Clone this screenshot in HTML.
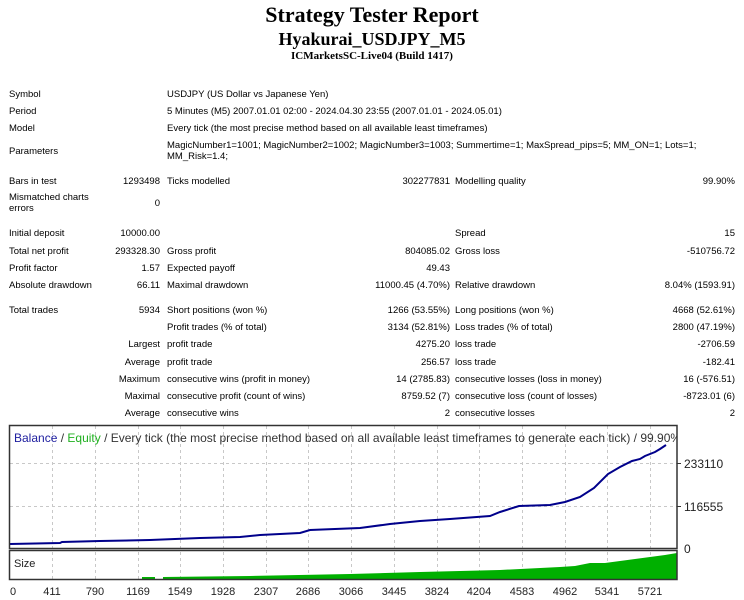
<!DOCTYPE html>
<html><head><meta charset="utf-8"><style>
body{margin:0;width:744px;height:600px;background:#fff;position:relative;overflow:hidden;font-family:"Liberation Sans",sans-serif;color:#000}
.t{position:absolute;font-size:9.5px;white-space:nowrap;line-height:11px}
.r{text-align:right}
.h{position:absolute;left:0;width:744px;text-align:center;font-family:"Liberation Serif",serif;font-weight:bold}
</style></head><body>
<div class="h" style="top:2px;font-size:22px">Strategy Tester Report</div>
<div class="h" style="top:29px;font-size:18px">Hyakurai_USDJPY_M5</div>
<div class="h" style="top:50px;font-size:11px">ICMarketsSC-Live04 (Build 1417)</div>

<div class="t" style="left:9px;top:89px">Symbol</div><div class="t" style="left:167px;top:89px">USDJPY (US Dollar vs Japanese Yen)</div>
<div class="t" style="left:9px;top:106px">Period</div><div class="t" style="left:167px;top:106px">5 Minutes (M5) 2007.01.01 02:00 - 2024.04.30 23:55 (2007.01.01 - 2024.05.01)</div>
<div class="t" style="left:9px;top:123px">Model</div><div class="t" style="left:167px;top:123px">Every tick (the most precise method based on all available least timeframes)</div>
<div class="t" style="left:9px;top:146px">Parameters</div><div class="t" style="left:167px;top:140px">MagicNumber1=1001; MagicNumber2=1002; MagicNumber3=1003; Summertime=1; MaxSpread_pips=5; MM_ON=1; Lots=1;<br>MM_Risk=1.4;</div>
<div class="t" style="left:9px;top:176px">Bars in test</div><div class="t r" style="right:584px;top:176px">1293498</div><div class="t" style="left:167px;top:176px">Ticks modelled</div><div class="t r" style="right:294px;top:176px">302277831</div><div class="t" style="left:455px;top:176px">Modelling quality</div><div class="t r" style="right:9px;top:176px">99.90%</div>
<div class="t" style="left:9px;top:192px">Mismatched charts<br>errors</div><div class="t r" style="right:584px;top:198px">0</div>
<div class="t" style="left:9px;top:228px">Initial deposit</div><div class="t r" style="right:584px;top:228px">10000.00</div><div class="t" style="left:455px;top:228px">Spread</div><div class="t r" style="right:9px;top:228px">15</div>
<div class="t" style="left:9px;top:246px">Total net profit</div><div class="t r" style="right:584px;top:246px">293328.30</div><div class="t" style="left:167px;top:246px">Gross profit</div><div class="t r" style="right:294px;top:246px">804085.02</div><div class="t" style="left:455px;top:246px">Gross loss</div><div class="t r" style="right:9px;top:246px">-510756.72</div>
<div class="t" style="left:9px;top:263px">Profit factor</div><div class="t r" style="right:584px;top:263px">1.57</div><div class="t" style="left:167px;top:263px">Expected payoff</div><div class="t r" style="right:294px;top:263px">49.43</div>
<div class="t" style="left:9px;top:280px">Absolute drawdown</div><div class="t r" style="right:584px;top:280px">66.11</div><div class="t" style="left:167px;top:280px">Maximal drawdown</div><div class="t r" style="right:294px;top:280px">11000.45 (4.70%)</div><div class="t" style="left:455px;top:280px">Relative drawdown</div><div class="t r" style="right:9px;top:280px">8.04% (1593.91)</div>
<div class="t" style="left:9px;top:305px">Total trades</div><div class="t r" style="right:584px;top:305px">5934</div><div class="t" style="left:167px;top:305px">Short positions (won %)</div><div class="t r" style="right:294px;top:305px">1266 (53.55%)</div><div class="t" style="left:455px;top:305px">Long positions (won %)</div><div class="t r" style="right:9px;top:305px">4668 (52.61%)</div>
<div class="t" style="left:167px;top:322px">Profit trades (% of total)</div><div class="t r" style="right:294px;top:322px">3134 (52.81%)</div><div class="t" style="left:455px;top:322px">Loss trades (% of total)</div><div class="t r" style="right:9px;top:322px">2800 (47.19%)</div>
<div class="t r" style="right:584px;top:339px">Largest</div><div class="t" style="left:167px;top:339px">profit trade</div><div class="t r" style="right:294px;top:339px">4275.20</div><div class="t" style="left:455px;top:339px">loss trade</div><div class="t r" style="right:9px;top:339px">-2706.59</div>
<div class="t r" style="right:584px;top:357px">Average</div><div class="t" style="left:167px;top:357px">profit trade</div><div class="t r" style="right:294px;top:357px">256.57</div><div class="t" style="left:455px;top:357px">loss trade</div><div class="t r" style="right:9px;top:357px">-182.41</div>
<div class="t r" style="right:584px;top:374px">Maximum</div><div class="t" style="left:167px;top:374px">consecutive wins (profit in money)</div><div class="t r" style="right:294px;top:374px">14 (2785.83)</div><div class="t" style="left:455px;top:374px">consecutive losses (loss in money)</div><div class="t r" style="right:9px;top:374px">16 (-576.51)</div>
<div class="t r" style="right:584px;top:391px">Maximal</div><div class="t" style="left:167px;top:391px">consecutive profit (count of wins)</div><div class="t r" style="right:294px;top:391px">8759.52 (7)</div><div class="t" style="left:455px;top:391px">consecutive loss (count of losses)</div><div class="t r" style="right:9px;top:391px">-8723.01 (6)</div>
<div class="t r" style="right:584px;top:408px">Average</div><div class="t" style="left:167px;top:408px">consecutive wins</div><div class="t r" style="right:294px;top:408px">2</div><div class="t" style="left:455px;top:408px">consecutive losses</div><div class="t r" style="right:9px;top:408px">2</div>

<svg style="position:absolute;left:0;top:0" width="744" height="600" viewBox="0 0 744 600" font-family="Liberation Sans, sans-serif">
<defs><clipPath id="c"><rect x="10" y="427" width="667" height="121"/></clipPath></defs>
<g stroke="#c8c8c8" stroke-dasharray="3,3" stroke-width="1">
<line x1="10" y1="463.5" x2="677" y2="463.5"/><line x1="10" y1="506.5" x2="677" y2="506.5"/>
<line x1="52.5" y1="426" x2="52.5" y2="579"/><line x1="95.5" y1="426" x2="95.5" y2="579"/><line x1="138.5" y1="426" x2="138.5" y2="579"/><line x1="180.5" y1="426" x2="180.5" y2="579"/><line x1="223.5" y1="426" x2="223.5" y2="579"/><line x1="266.5" y1="426" x2="266.5" y2="579"/><line x1="308.5" y1="426" x2="308.5" y2="579"/><line x1="351.5" y1="426" x2="351.5" y2="579"/><line x1="394.5" y1="426" x2="394.5" y2="579"/><line x1="437.5" y1="426" x2="437.5" y2="579"/><line x1="479.5" y1="426" x2="479.5" y2="579"/><line x1="522.5" y1="426" x2="522.5" y2="579"/><line x1="565.5" y1="426" x2="565.5" y2="579"/><line x1="607.5" y1="426" x2="607.5" y2="579"/><line x1="650.5" y1="426" x2="650.5" y2="579"/>
</g>
<polygon fill="#00b000" points="142,579 142,577 155,577 155,579 163,579 163,577 250,576 350,574 420,572 500,570 560,567 575,566 590,563 605,563 620,561 635,559 650,557 665,555 677,553 677,579"/>
<polyline clip-path="url(#c)" fill="none" stroke="#00008b" stroke-width="2" points="10,544 60,543 62,542 100,541 150,540 200,538 240,537 260,535 300,533 310,530 360,528 390,524 420,521 450,519 490,516 500,512 519,506 550,505 565,502 580,497 594,488 608,474 620,467 632,461 640,459 645,456 655,452 660,449 666,445"/>
<rect x="9.5" y="425.5" width="667.5" height="123" fill="none" stroke="#333" stroke-width="1.5"/>
<rect x="9.5" y="550.5" width="667.5" height="29" fill="none" stroke="#333" stroke-width="1.5"/>
<line x1="677" y1="463.5" x2="681" y2="463.5" stroke="#333"/><line x1="677" y1="506.5" x2="681" y2="506.5" stroke="#333"/>
<svg x="10" y="427" width="667" height="20"><text x="4" y="15" font-size="12" fill="#333"><tspan fill="#2020a0">Balance</tspan> / <tspan fill="#20b020">Equity</tspan> / Every tick (the most precise method based on all available least timeframes to generate each tick) / 99.90%</text></svg>
<text x="14" y="567" font-size="11" fill="#222">Size</text>
<g font-size="12" fill="#222">
<text x="684" y="468">233110</text><text x="684" y="511">116555</text><text x="684" y="553">0</text>
</g>
<g font-size="11" fill="#222" text-anchor="middle">
<text x="13" y="595">0</text><text x="52" y="595">411</text><text x="95" y="595">790</text><text x="138" y="595">1169</text><text x="180" y="595">1549</text><text x="223" y="595">1928</text><text x="266" y="595">2307</text><text x="308" y="595">2686</text><text x="351" y="595">3066</text><text x="394" y="595">3445</text><text x="437" y="595">3824</text><text x="479" y="595">4204</text><text x="522" y="595">4583</text><text x="565" y="595">4962</text><text x="607" y="595">5341</text><text x="650" y="595">5721</text>
</g>
</svg>
</body></html>
